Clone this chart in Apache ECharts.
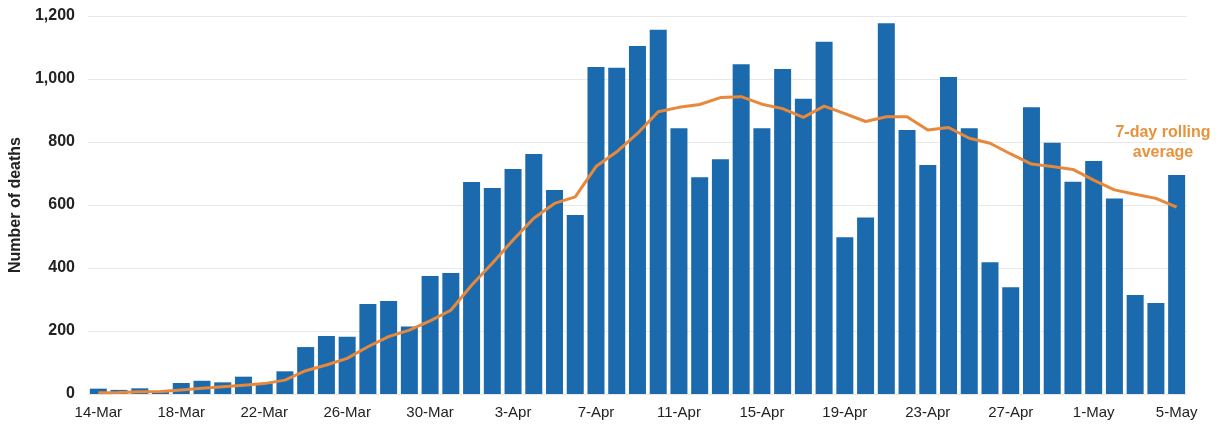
<!DOCTYPE html>
<html>
<head>
<meta charset="utf-8">
<script src="https://cdn.jsdelivr.net/npm/echarts@6/dist/echarts.min.js"></script>
<style>
html,body{margin:0;padding:0;background:#fff;}
#c{width:1222px;height:425px;}
</style>
</head>
<body>
<div id="c"></div>
<script>
const categories = [
  '14-Mar','15-Mar','16-Mar','17-Mar','18-Mar','19-Mar','20-Mar','21-Mar','22-Mar','23-Mar',
  '24-Mar','25-Mar','26-Mar','27-Mar','28-Mar','29-Mar','30-Mar','31-Mar',
  '1-Apr','2-Apr','3-Apr','4-Apr','5-Apr','6-Apr','7-Apr','8-Apr','9-Apr','10-Apr',
  '11-Apr','12-Apr','13-Apr','14-Apr','15-Apr','16-Apr','17-Apr','18-Apr','19-Apr','20-Apr',
  '21-Apr','22-Apr','23-Apr','24-Apr','25-Apr','26-Apr','27-Apr','28-Apr','29-Apr','30-Apr',
  '1-May','2-May','3-May','4-May','5-May'
];
const deaths = [
  17, 13, 18, 6, 35, 42, 37, 55, 34, 72,
  149, 184, 182, 286, 295, 214, 375, 384,
  673, 654, 714, 762, 648, 568, 1038, 1036, 1105, 1156,
  844, 688, 745, 1047, 844, 1032, 937, 1118, 498, 560,
  1177, 838, 727, 1006, 844, 418, 339, 910, 798, 674,
  740, 621, 314, 289, 695
];
const rollingAvg = [
  4, 5, 7, 8, 13, 18, 23, 28, 33, 44,
  74, 92, 113, 150, 182, 203, 232, 266,
  345, 415, 489, 558, 605, 626, 722, 769, 827, 896,
  910, 919, 941, 944, 920, 906, 878, 914, 890, 865,
  880, 880, 838, 846, 812, 796, 762, 730, 722, 713,
  679, 648, 634, 621, 593
];
const yTicks = [0, 200, 400, 600, 800, 1000, 1200];
const annotation = '7-day rolling\naverage';

const FONT = '"Liberation Sans", Arial, sans-serif';
const chart = echarts.init(document.getElementById('c'), null, {renderer: 'canvas'});
chart.setOption({
  animation: false,
  backgroundColor: '#ffffff',
  grid: {left: 84, right: 35, top: 16, bottom: 31},
  xAxis: {
    type: 'category',
    data: categories,
    axisLine: {show: false},
    axisTick: {show: false},
    axisLabel: {
      interval: 3,
      margin: 11,
      fontFamily: FONT,
      fontSize: 15,
      color: '#222'
    }
  },
  yAxis: {
    type: 'value',
    min: yTicks[0],
    max: yTicks[yTicks.length - 1],
    interval: 200,
    name: 'Number of deaths',
    nameLocation: 'middle',
    nameGap: 63,
    nameTextStyle: {
      fontFamily: FONT,
      fontSize: 16,
      fontWeight: 'bold',
      color: '#222'
    },
    axisLine: {show: false},
    axisTick: {show: false},
    splitLine: {lineStyle: {color: '#e8e8e8', width: 1}},
    axisLabel: {
      margin: 13,
      fontFamily: FONT,
      fontSize: 16,
      fontWeight: 'bold',
      color: '#222',
      formatter: v => v.toLocaleString('en-US')
    }
  },
  series: [
    {
      type: 'bar',
      data: deaths,
      barCategoryGap: '18%',
      itemStyle: {color: '#1c6aae'}
    },
    {
      type: 'line',
      data: rollingAvg,
      symbol: 'none',
      smooth: false,
      lineStyle: {color: '#e8883a', width: 3},
      z: 5
    }
  ],
  graphic: [
    {
      type: 'text',
      x: 1163,
      y: 123,
      z: 10,
      style: {
        text: annotation,
        align: 'center',
        verticalAlign: 'top',
        fill: '#e8923c',
        font: 'bold 16px "Liberation Sans", Arial, sans-serif',
        lineHeight: 20
      }
    }
  ]
});
</script>
</body>
</html>
